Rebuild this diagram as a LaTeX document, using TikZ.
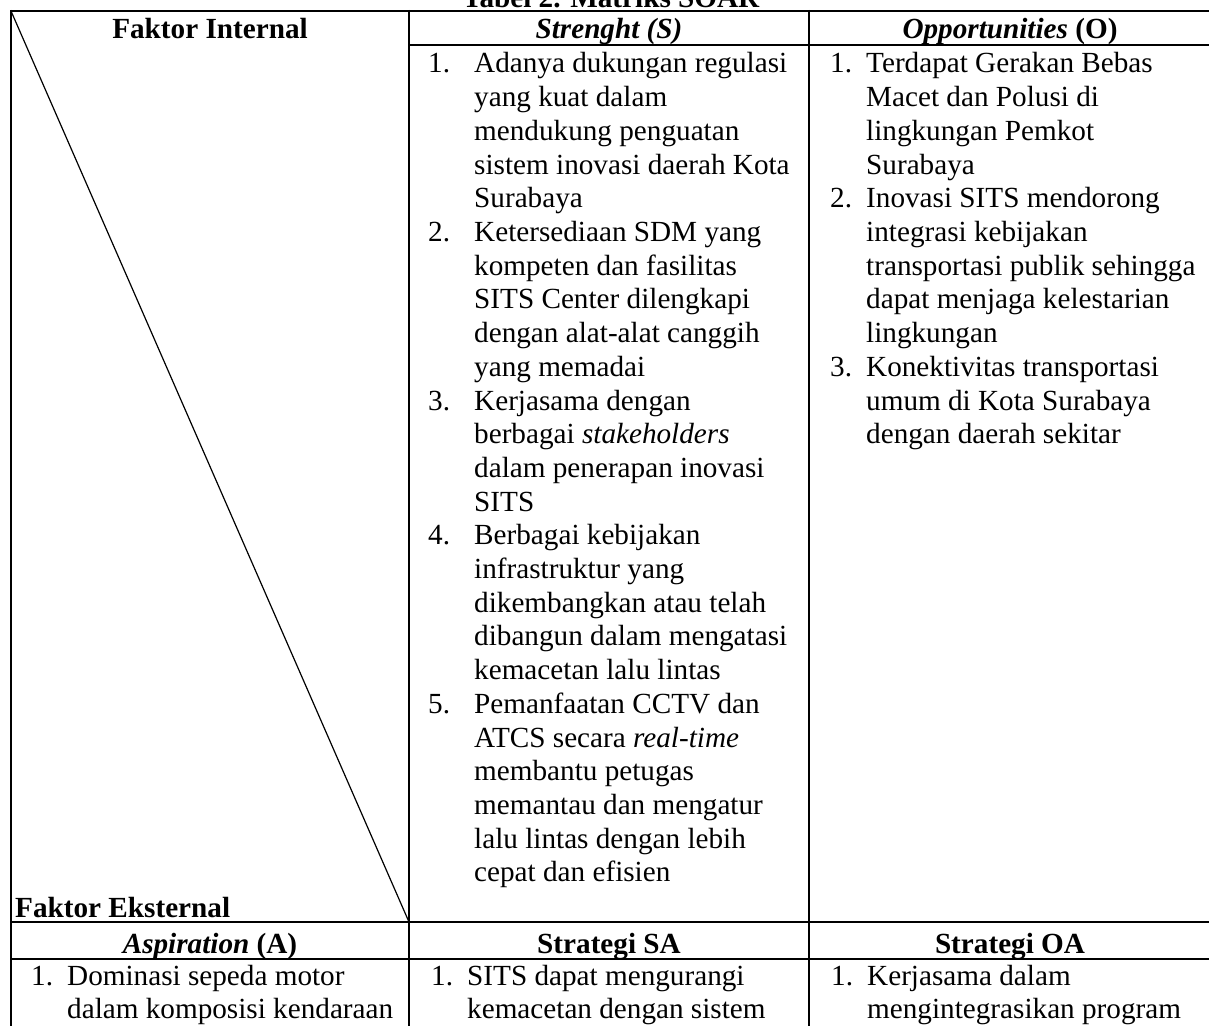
\documentclass[tikz,border=0pt]{standalone}
\usepackage{fontspec}
\setmainfont{Liberation Serif}
\begin{document}
\begin{tikzpicture}[x=1pt,y=-1pt,
  every node/.style={inner sep=0pt,font=\fontsize{29.2}{33.7}\selectfont},
  cell/.style={anchor=base west},
  head/.style={anchor=base,font=\fontsize{29.2}{33.7}\selectfont\bfseries},
  rule/.style={line width=2pt}]
\fill[white] (0,0) rectangle (1209,1025);
\useasboundingbox (0,0) rectangle (1209,1025);
% title, cut off at the top
\node[head] (title) at (611,8) {Tabel 2. Matriks SOAR};
% grid
\coordinate (corner) at (11,11);
\coordinate (cross) at (409,922);
\draw[rule] (11,11) -- (1215,11);
\draw[rule] (409,45) -- (1215,45);
\draw[rule] (11,922) -- (1215,922);
\draw[rule] (11,959) -- (1215,959);
\foreach \x in {11,409,809,1211}
  \draw[rule] (\x,10) -- (\x,1030);
\draw[line width=1.2pt] (corner) -- (cross);
% headers
\node[head] (fi) at (210,39) {Faktor Internal};
\node[head] (hs) at (609,39) {\itshape Strenght (S)};
\node[head] (ho) at (1010,39) {\textit{Opportunities} (O)};
\node[head,anchor=base west] (fe) at (15,917) {Faktor Eksternal};
\node[head] (ha) at (210,953) {\textit{Aspiration} (A)};
\node[head] (hsa) at (609,953) {Strategi SA};
\node[head] (hoa) at (1010,953) {Strategi OA};
% strength
\foreach \n/\row in {1/0,2/5,3/10,4/14,5/19}
  \node[cell] (sn\n) at (428,{73+\row*33.7}) {\n.};
\foreach \txt [count=\i from 0] in {Adanya dukungan regulasi, yang kuat dalam,
  mendukung penguatan, sistem inovasi daerah Kota, Surabaya,
  Ketersediaan SDM yang, kompeten dan fasilitas, SITS Center dilengkapi,
  dengan alat-alat canggih, yang memadai,
  Kerjasama dengan, berbagai \textit{stakeholders}, dalam penerapan inovasi, SITS,
  Berbagai kebijakan, infrastruktur yang, dikembangkan atau telah,
  dibangun dalam mengatasi, kemacetan lalu lintas,
  Pemanfaatan CCTV dan, ATCS secara \textit{real-time}, membantu petugas,
  memantau dan mengatur, lalu lintas dengan lebih, cepat dan efisien}
  \node[cell] (s\i) at (474,{73+\i*33.7}) {\txt};
% opportunities
\foreach \n/\row in {1/0,2/4,3/9}
  \node[cell] (on\n) at (830,{73+\row*33.7}) {\n.};
\foreach \txt [count=\i from 0] in {Terdapat Gerakan Bebas, Macet dan Polusi di,
  lingkungan Pemkot, Surabaya,
  Inovasi SITS mendorong, integrasi kebijakan, transportasi publik sehingga,
  dapat menjaga kelestarian, lingkungan,
  Konektivitas transportasi, umum di Kota Surabaya, dengan daerah sekitar}
  \node[cell] (o\i) at (866,{73+\i*33.7}) {\txt};
% last row
\node[cell] (an) at (31,985) {1.};
\node[cell] (a0) at (67,985) {Dominasi sepeda motor};
\node[cell] (a1) at (67,1018.7) {dalam komposisi kendaraan};
\node[cell] (san) at (431,985) {1.};
\node[cell] (sa0) at (467,985) {SITS dapat mengurangi};
\node[cell] (sa1) at (467,1018.7) {kemacetan dengan sistem};
\node[cell] (oan) at (831,985) {1.};
\node[cell] (oa0) at (867,985) {Kerjasama dalam};
\node[cell] (oa1) at (867,1018.7) {mengintegrasikan program};
\end{tikzpicture}
\end{document}
